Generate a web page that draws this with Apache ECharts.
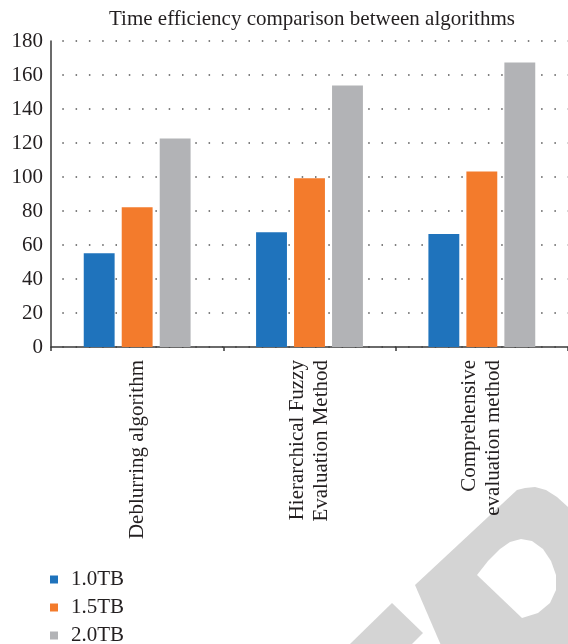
<!DOCTYPE html>
<html>
<head>
<meta charset="utf-8">
<script src="https://cdn.jsdelivr.net/npm/echarts@6/dist/echarts.min.js"></script>
<style>
  html, body { margin: 0; padding: 0; background: #fff; }
  #chart { width: 568px; height: 644px; }
</style>
</head>
<body>
<div id="chart"></div>
<script>
const categories = ['Deblurring algorithm', 'Hierarchical Fuzzy\nEvaluation Method', 'Comprehensive\nevaluation method']
const seriesNames = ['1.0TB', '1.5TB', '2.0TB']
const tb10 = [55.2, 67.5, 66.4]
const tb15 = [82.2, 99.2, 103.3]
const tb20 = [122.7, 153.8, 167.3]
const colors = ['#1f73bc', '#f37b2c', '#b2b3b6']

const font = 'Liberation Serif, DejaVu Serif, serif'
const textColor = '#231f20'
const fs = 21

const chart = echarts.init(document.getElementById('chart'))

function bar(name, data, color) {
  return {
    name: name,
    type: 'bar',
    data: data,
    barGap: '23%',
    barCategoryGap: '38%',
    itemStyle: { color: color },
    animation: false
  }
}

// grey watermark in the lower right corner
const watermark = [
  {
    type: 'polygon', z: -10, silent: true,
    shape: { points: [[392, 603], [423, 633], [412, 644], [350, 644]] },
    style: { fill: '#d4d4d4' }
  },
  {
    type: 'polygon', z: -10, silent: true,
    shape: { points: [[415, 585], [517, 490], [525, 488], [535, 487], [546, 490], [557, 497], [568, 507], [580, 520], [580, 650], [443, 650]] },
    style: { fill: '#d4d4d4' }
  },
  {
    type: 'polygon', z: -9, silent: true,
    shape: { points: [[477, 575], [488, 561], [500, 549], [510, 542], [521, 539], [532, 541], [543, 549], [551, 561], [556, 575], [556, 590], [550, 603], [538, 613], [522, 618]] },
    style: { fill: '#fff' }
  }
]

chart.setOption({
  backgroundColor: '#fff',
  graphic: watermark,
  title: {
    text: 'Time efficiency comparison between algorithms',
    left: 104,
    top: 4,
    textStyle: { fontFamily: font, fontSize: fs, fontWeight: 'normal', color: textColor }
  },
  grid: {
    left: 51,
    right: -2,
    top: 41,
    bottom: 297
  },
  legend: {
    orient: 'vertical',
    left: 50,
    top: 569,
    height: 100,
    padding: 0,
    itemWidth: 8,
    itemHeight: 8,
    itemGap: 7,
    icon: 'rect',
    textStyle: { fontFamily: font, fontSize: fs, lineHeight: 20, color: textColor, padding: [0, 0, 0, 8] },
    data: seriesNames
  },
  xAxis: {
    type: 'category',
    data: categories,
    axisLine: { lineStyle: { color: '#3a3a3a', width: 1.5 } },
    axisTick: { show: true, length: 4, lineStyle: { color: '#3a3a3a', width: 1.5 } },
    axisLabel: {
      rotate: 90,
      margin: 13,
      fontFamily: font,
      fontSize: fs,
      lineHeight: 24,
      color: textColor
    }
  },
  yAxis: {
    type: 'value',
    min: 0,
    max: 180,
    interval: 20,
    axisLine: { show: true, lineStyle: { color: '#3a3a3a', width: 1.5 } },
    axisTick: { show: false },
    axisLabel: { fontFamily: font, fontSize: fs, color: textColor, margin: 8 },
    splitLine: {
      lineStyle: { color: '#555', width: 1.5, type: [1.5, 11.8], dashOffset: 2 }
    }
  },
  series: [
    bar(seriesNames[0], tb10, colors[0]),
    bar(seriesNames[1], tb15, colors[1]),
    bar(seriesNames[2], tb20, colors[2])
  ]
})
</script>
</body>
</html>
